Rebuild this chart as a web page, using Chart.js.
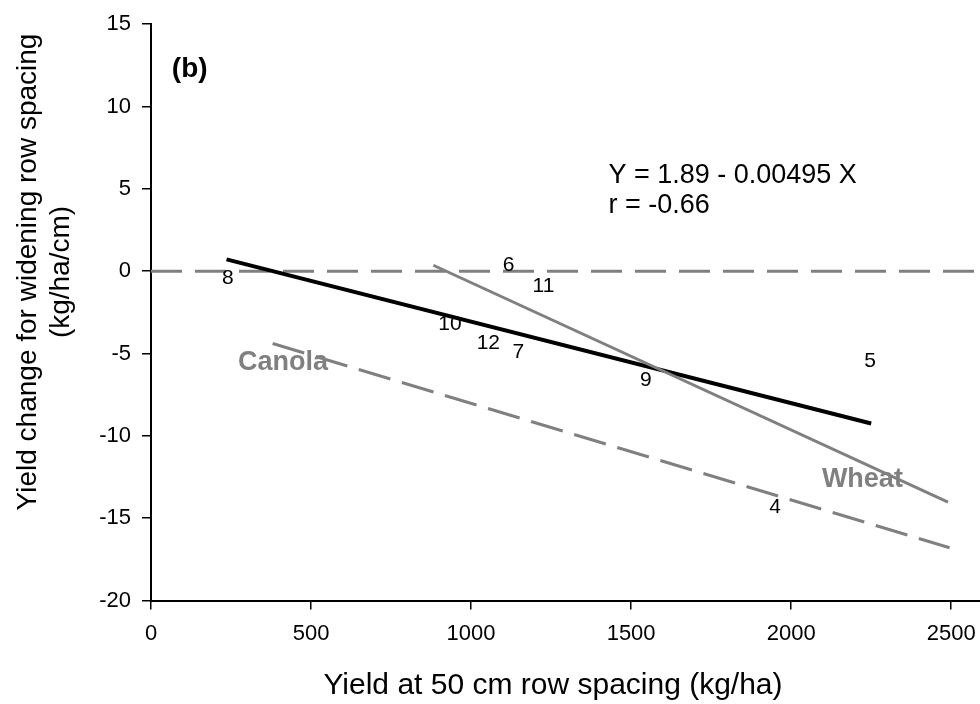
<!DOCTYPE html>
<html>
<head>
<meta charset="utf-8">
<script src="https://cdn.jsdelivr.net/npm/chart.js@4.4.1/dist/chart.umd.min.js"></script>
<style>
  body { margin: 0; background: #fff; }
  #chart { display: block; }
</style>
</head>
<body>
<canvas id="chart" width="980" height="704"></canvas>
<script>
// site numbers and their values
const siteLabels = ['8', '6', '11', '10', '12', '7', '9', '5', '4'];
const siteYield  = [240, 1117, 1226, 934, 1054, 1148, 1546, 2247, 1950];
const siteChange = [-0.44, 0.36, -0.90, -3.25, -4.39, -4.95, -6.65, -5.44, -14.36];

// fitted lines (end points)
const fitX    = [236, 2250];
const fitY    = [0.72, -9.25];
const wheatX  = [882, 2490];
const wheatY  = [0.36, -14.02];
const canolaX = [380, 2495];
const canolaY = [-4.39, -16.8];
const zeroX   = [0, 2590];
const zeroY   = [0, 0];

const xTicks = [0, 500, 1000, 1500, 2000, 2500];
const yTicks = [-20, -15, -10, -5, 0, 5, 10, 15];

const FONT = "'Liberation Sans', Arial, sans-serif";
const GREY = '#808080';

const pts = (xs, ys) => xs.map((x, i) => ({ x: x, y: ys[i] }));

// text placed in data units
const notes = [
    { text: '(b)', x: 65, y: 12.24, font: 'bold 28px ' + FONT, color: '#000' },
    { text: 'Y = 1.89 - 0.00495 X', x: 1429, y: 5.83, font: '27px ' + FONT, color: '#000' },
    { text: 'r = -0.66', x: 1429, y: 3.97, font: '27px ' + FONT, color: '#000' },
    { text: 'Canola', x: 272, y: -5.55, font: 'bold 27px ' + FONT, color: GREY },
    { text: 'Wheat', x: 2096, y: -12.66, font: 'bold 27px ' + FONT, color: GREY },
];

const textPlugin = {
    id: 'texts',
    afterDatasetsDraw(chart) {
        const ctx = chart.ctx;
        const xs = chart.scales.x, ys = chart.scales.y;
        ctx.save();
        // site numbers used as markers
        const meta = chart.getDatasetMeta(4);
        ctx.font = '21px ' + FONT;
        ctx.fillStyle = '#000';
        ctx.textAlign = 'center';
        ctx.textBaseline = 'middle';
        meta.data.forEach((p, i) => ctx.fillText(siteLabels[i], p.x, p.y));

        ctx.textAlign = 'left';
        notes.forEach(n => {
            ctx.font = n.font;
            ctx.fillStyle = n.color;
            ctx.fillText(n.text, xs.getPixelForValue(n.x), ys.getPixelForValue(n.y));
        });
        ctx.restore();
    },
    afterDraw(chart) {
        const ctx = chart.ctx;
        ctx.save();
        ctx.fillStyle = '#000';
        ctx.textAlign = 'center';
        ctx.textBaseline = 'middle';
        ctx.font = '30px ' + FONT;
        ctx.fillText('Yield at 50 cm row spacing (kg/ha)', 553, 686);
        ctx.translate(0, 272);
        ctx.rotate(-Math.PI / 2);
        ctx.font = '28px ' + FONT;
        ctx.fillText('Yield change for widening row spacing', 0, 28);
        ctx.fillText('(kg/ha/cm)', 0, 61);
        ctx.restore();
    }
};

new Chart(document.getElementById('chart'), {
    type: 'scatter',
    data: {
        datasets: [
            {
                data: pts(zeroX, zeroY),
                showLine: true,
                borderColor: GREY,
                borderWidth: 3,
                borderDash: [31, 13],
                pointRadius: 0,
                order: 4,
            },
            {
                data: pts(fitX, fitY),
                showLine: true,
                borderColor: '#000',
                borderWidth: 4,
                pointRadius: 0,
                order: 3,
            },
            {
                data: pts(wheatX, wheatY),
                showLine: true,
                borderColor: GREY,
                borderWidth: 3,
                pointRadius: 0,
                order: 2,
            },
            {
                data: pts(canolaX, canolaY),
                showLine: true,
                borderColor: GREY,
                borderWidth: 3,
                borderDash: [33, 12],
                pointRadius: 0,
                order: 1,
            },
            {
                data: pts(siteYield, siteChange),
                showLine: false,
                pointRadius: 0,
                order: 0,
            },
        ]
    },
    options: {
        responsive: false,
        animation: false,
        layout: { padding: { top: 19, right: 0, left: 0, bottom: 0 } },
        plugins: {
            legend: { display: false },
            tooltip: { enabled: false },
        },
        scales: {
            x: {
                type: 'linear',
                min: 0,
                max: 2590,
                afterBuildTicks: axis => { axis.ticks = xTicks.map(v => ({ value: v })); },
                afterFit: scale => {
                    scale.height = 103.5;
                    scale.paddingRight = 0;
                },
                ticks: {
                    color: '#000',
                    font: { family: FONT, size: 22 },
                    padding: 11,
                    maxRotation: 0,
                    callback: v => String(v),
                },
                grid: {
                    drawOnChartArea: false,
                    drawTicks: true,
                    tickLength: 9,
                    color: '#000',
                    lineWidth: 1.5,
                },
                border: { color: '#000', width: 2 },
            },
            y: {
                type: 'linear',
                min: -20,
                max: 15,
                afterBuildTicks: axis => { axis.ticks = yTicks.map(v => ({ value: v })); },
                afterFit: scale => { scale.width = 151; },
                ticks: {
                    color: '#000',
                    font: { family: FONT, size: 22 },
                    padding: 11,
                    callback: v => String(v),
                },
                grid: {
                    drawOnChartArea: false,
                    drawTicks: true,
                    tickLength: 9,
                    color: '#000',
                    lineWidth: 1.5,
                },
                border: { color: '#000', width: 2 },
            }
        }
    },
    plugins: [textPlugin]
});
</script>
</body>
</html>
